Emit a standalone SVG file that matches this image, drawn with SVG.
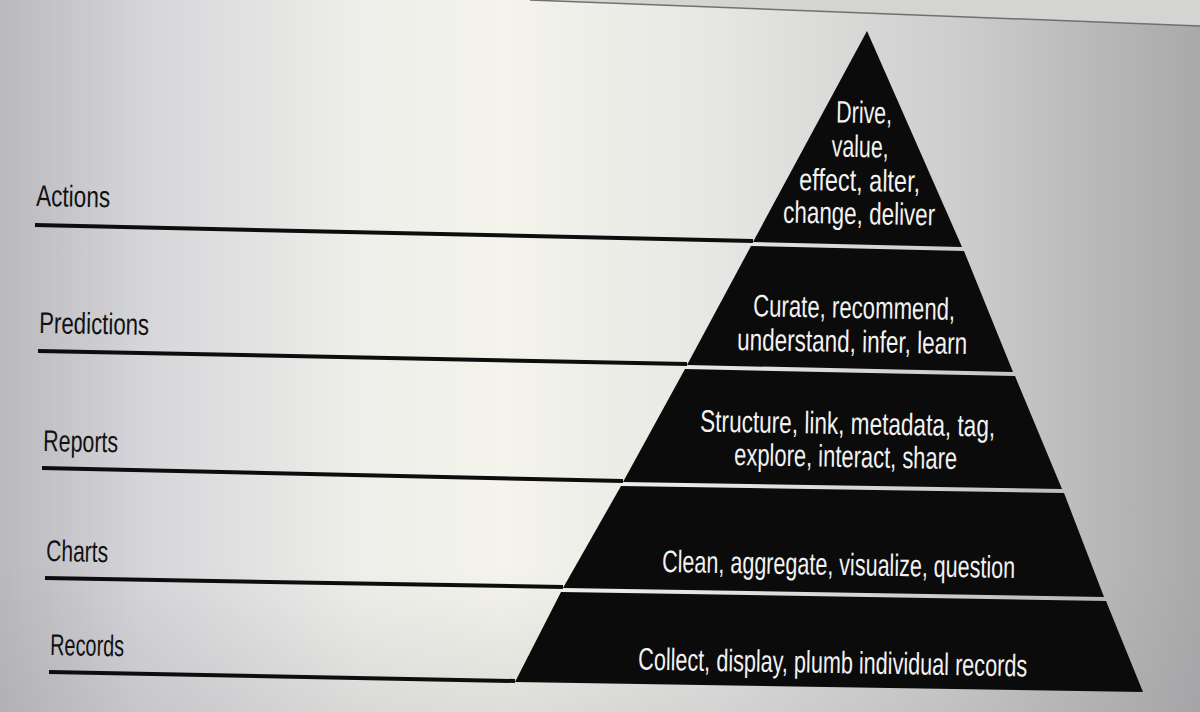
<svg xmlns="http://www.w3.org/2000/svg" width="1200" height="712" viewBox="0 0 1200 712">
  <defs>
    <linearGradient id="bg" x1="0" y1="0" x2="1" y2="0">
      <stop offset="0" stop-color="#b8b8bd"/>
      <stop offset="0.12" stop-color="#d6d6da"/>
      <stop offset="0.3" stop-color="#eeeeea"/>
      <stop offset="0.42" stop-color="#f4f4ec"/>
      <stop offset="0.6" stop-color="#e6e6e4"/>
      <stop offset="0.8" stop-color="#cdcdcd"/>
      <stop offset="1" stop-color="#a9a9aa"/>
    </linearGradient>
    <linearGradient id="shade" x1="0" y1="0" x2="0" y2="1">
      <stop offset="0" stop-color="#ffffff" stop-opacity="0"/>
      <stop offset="0.8" stop-color="#9a9aa0" stop-opacity="0"/>
      <stop offset="1" stop-color="#9a9aa0" stop-opacity="0.25"/>
    </linearGradient>
    <style>
      .layer { fill: #0b0b0b; }
      .in { font-family: "Liberation Sans Narrow", "Liberation Sans", Arial, sans-serif; font-size: 31px; fill: #f2f2f2; text-anchor: middle; }
      .lbl { font-family: "Liberation Sans Narrow", "Liberation Sans", Arial, sans-serif; font-size: 30px; fill: #111111; }
      .rule { stroke: #0d0d0d; stroke-width: 4; fill: none; stroke-linecap: butt; }
    </style>
  </defs>

  <rect x="0" y="0" width="1200" height="712" fill="url(#bg)"/>
  <rect x="0" y="0" width="1200" height="712" fill="url(#shade)"/>
  <polygon points="530,0 1200,0 1200,26" fill="#d4d4d2"/>
  <line x1="530" y1="0" x2="1200" y2="26" stroke="#707070" stroke-width="1.5"/>

  <g id="connectors">
    <line class="rule" x1="35" y1="225" x2="753" y2="241"/>
    <line class="rule" x1="38" y1="351" x2="687" y2="364"/>
    <line class="rule" x1="42" y1="468" x2="623" y2="481"/>
    <line class="rule" x1="45" y1="578" x2="563" y2="587"/>
    <line class="rule" x1="49" y1="672" x2="515" y2="681"/>
  </g>

  <g id="label-actions"><text class="lbl" x="36" y="206" textLength="74" lengthAdjust="spacingAndGlyphs" transform="rotate(1 36 206)">Actions</text></g>
  <g id="label-predictions"><text class="lbl" x="39" y="333" textLength="110" lengthAdjust="spacingAndGlyphs" transform="rotate(1 39 333)">Predictions</text></g>
  <g id="label-reports"><text class="lbl" x="43" y="451" textLength="75" lengthAdjust="spacingAndGlyphs" transform="rotate(1 43 451)">Reports</text></g>
  <g id="label-charts"><text class="lbl" x="46" y="561" textLength="62" lengthAdjust="spacingAndGlyphs" transform="rotate(1 46 561)">Charts</text></g>
  <g id="label-records"><text class="lbl" x="50" y="655" textLength="74" lengthAdjust="spacingAndGlyphs" transform="rotate(1 50 655)">Records</text></g>

  <g id="layer-actions">
    <polygon class="layer" points="867,31 962,247 753,242"/>
    <text class="in" x="864" y="123" textLength="56" lengthAdjust="spacingAndGlyphs" transform="rotate(1 864 123)">Drive,</text>
    <text class="in" x="860" y="157" textLength="57" lengthAdjust="spacingAndGlyphs" transform="rotate(1 860 157)">value,</text>
    <text class="in" x="859.5" y="191" textLength="121" lengthAdjust="spacingAndGlyphs" transform="rotate(1 859.5 191)">effect, alter,</text>
    <text class="in" x="859" y="224" textLength="152" lengthAdjust="spacingAndGlyphs" transform="rotate(1 859 224)">change, deliver</text>
  </g>

  <g id="layer-predictions">
    <polygon class="layer" points="751,246 964,251 1013,372 687,365"/>
    <text class="in" x="854" y="318" textLength="202" lengthAdjust="spacingAndGlyphs" transform="rotate(1 854 318)">Curate, recommend,</text>
    <text class="in" x="852" y="352" textLength="230" lengthAdjust="spacingAndGlyphs" transform="rotate(1 852 352)">understand, infer, learn</text>
  </g>

  <g id="layer-reports">
    <polygon class="layer" points="685,369 1015,376 1062,489 623,482"/>
    <text class="in" x="847.5" y="434" textLength="295" lengthAdjust="spacingAndGlyphs" transform="rotate(1 847.5 434)">Structure, link, metadata, tag,</text>
    <text class="in" x="845.5" y="467" textLength="223" lengthAdjust="spacingAndGlyphs" transform="rotate(1 845.5 467)">explore, interact, share</text>
  </g>

  <g id="layer-charts">
    <polygon class="layer" points="621,486 1064,493 1104,597 563,588"/>
    <text class="in" x="838.5" y="575" textLength="353" lengthAdjust="spacingAndGlyphs" transform="rotate(1 838.5 575)">Clean, aggregate, visualize, question</text>
  </g>

  <g id="layer-records">
    <polygon class="layer" points="561,592 1106,601 1143,692 515,682"/>
    <text class="in" x="832.5" y="673" textLength="389" lengthAdjust="spacingAndGlyphs" transform="rotate(1 832.5 673)">Collect, display, plumb individual records</text>
  </g>
</svg>
